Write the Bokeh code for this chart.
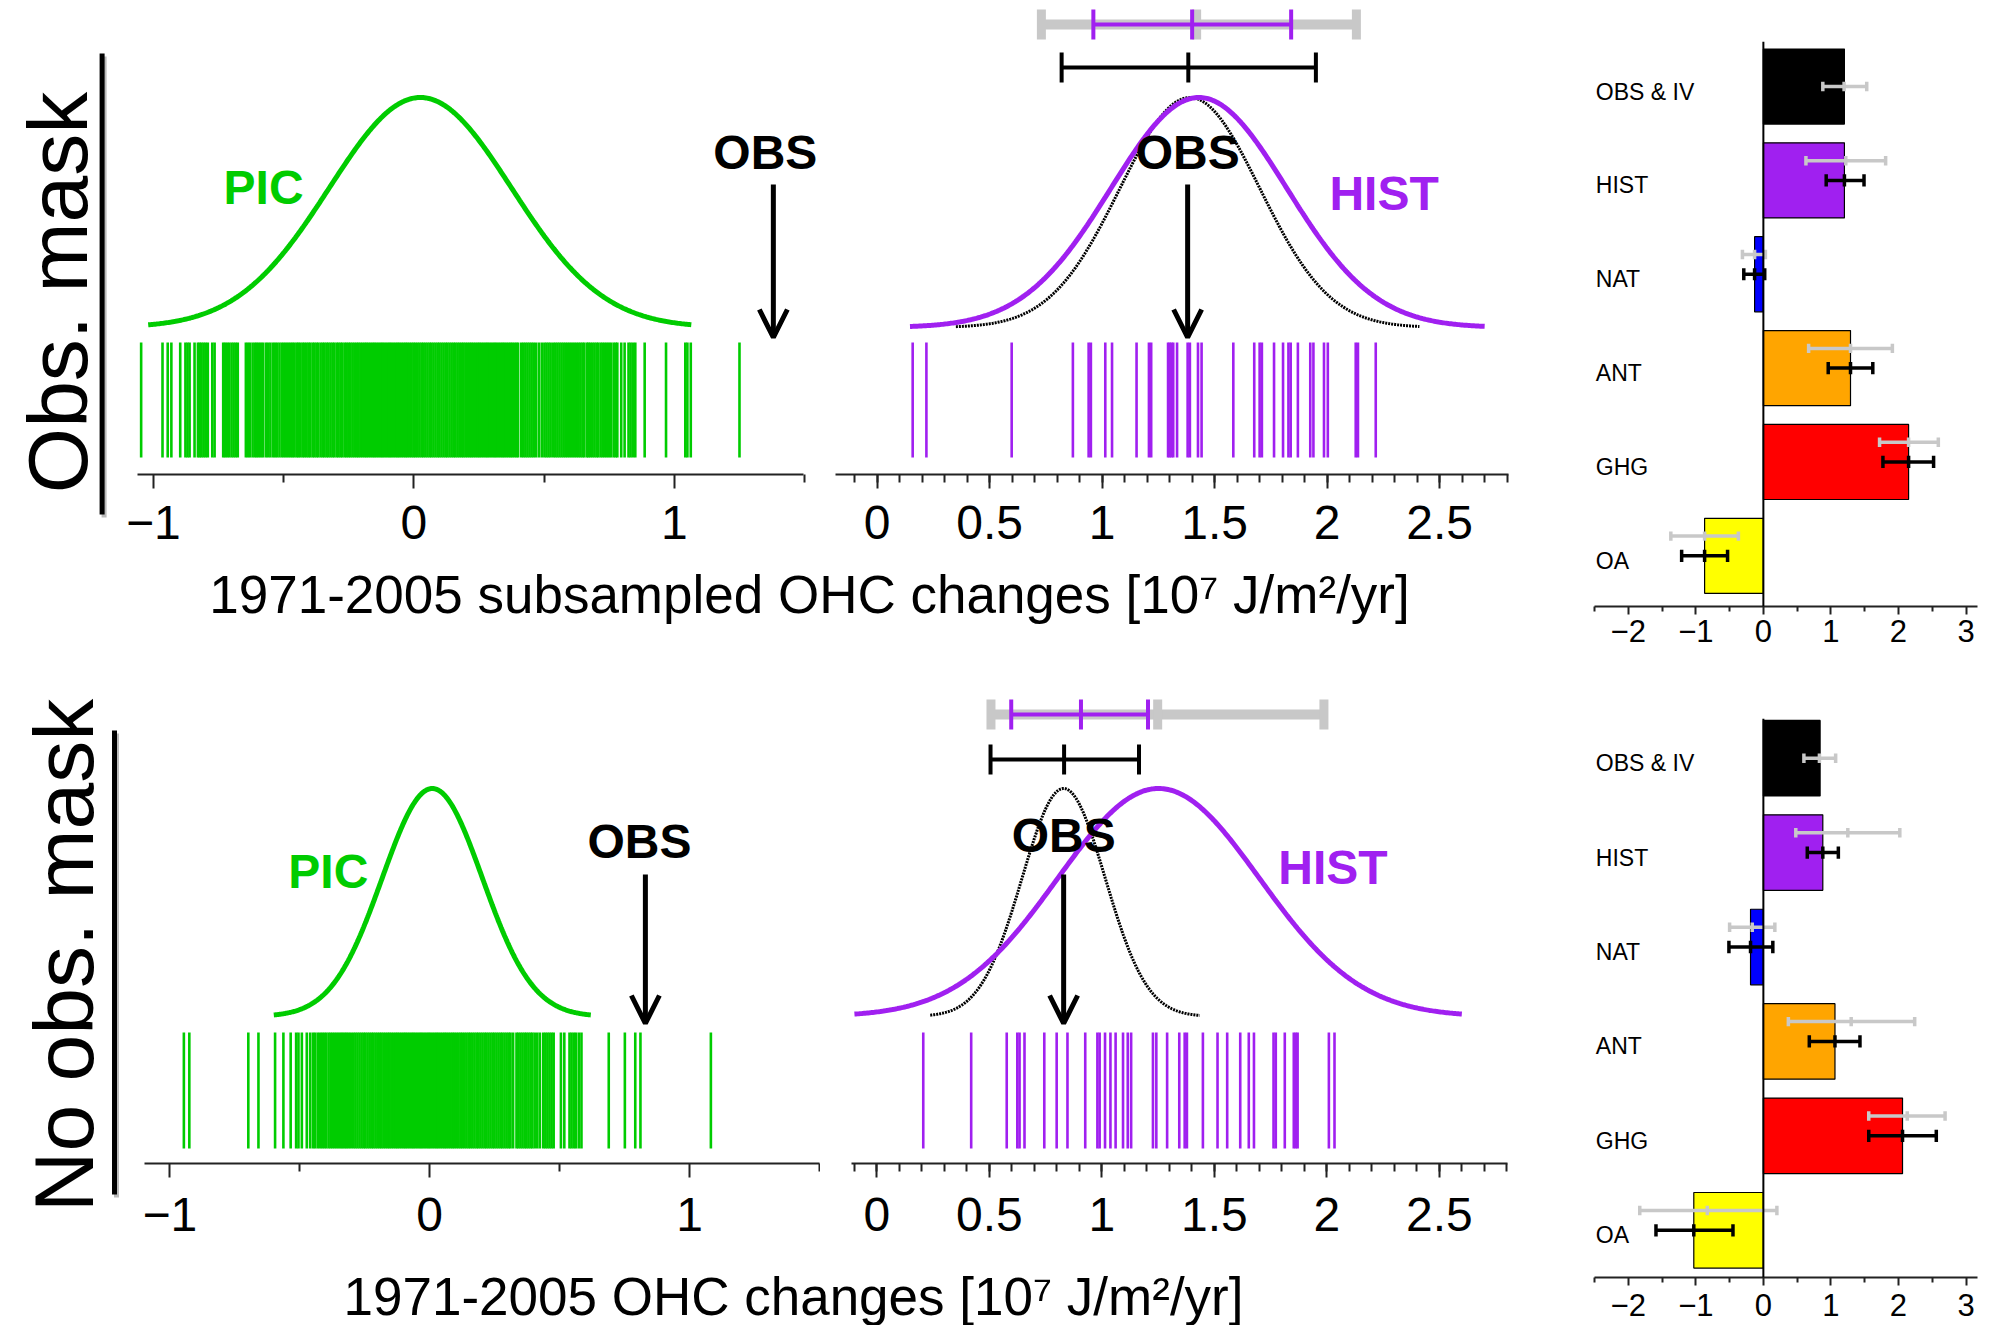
import numpy as np
from bokeh.plotting import figure
from bokeh.layouts import row, column
from bokeh.models import (Range1d, FixedTicker, CustomJSTickFormatter, Arrow, OpenHead, Span,
                          Label)
from bokeh.core.properties import value
from bokeh.embed import file_html
from bokeh.resources import INLINE

FONT = "Liberation Sans"
GREEN = "#00CC00"
PURPLE = "#A020F0"
GRAY = "#C8C8C8"
AXIS = "#222222"

# ---------------- ensemble members (rug values, 1e7 J/m2/yr) ----------------
pic_mask = [
    -1.047, -0.965, -0.945, -0.931, -0.897, -0.877, -0.869, -0.861, -0.842, -0.829,
    -0.822, -0.815, -0.807, -0.799, -0.791, -0.774, -0.765,
    -0.732, -0.725, -0.717, -0.709, -0.700, -0.692, -0.684, -0.676,
    -0.645, -0.637, -0.629, -0.619, -0.610, -0.603, -0.595, -0.587, -0.579, -0.568,
    -0.560, -0.551, -0.541, -0.533, -0.525, -0.516, -0.507, -0.499, -0.491, -0.483, -0.475,
    -0.467, -0.460, -0.451, -0.444, -0.437, -0.428, -0.421, -0.413, -0.405, -0.398,
    -0.389, -0.382, -0.374, -0.367, -0.358, -0.350, -0.343, -0.335, -0.328, -0.320,
    -0.312, -0.305, -0.296, -0.289, -0.281, -0.274, -0.265, -0.258, -0.250, -0.243,
    -0.235, -0.227, -0.219, -0.212, -0.204, -0.196, -0.188, -0.181, -0.173, -0.165,
    -0.157, -0.150, -0.142, -0.134, -0.126, -0.119, -0.111, -0.103, -0.095, -0.088,
    -0.080, -0.072, -0.064, -0.057, -0.049, -0.041, -0.033, -0.026, -0.018, -0.010,
    -0.002, 0.005, 0.013, 0.021, 0.029, 0.036, 0.044, 0.052, 0.060, 0.067,
    0.075, 0.083, 0.091, 0.098, 0.106, 0.114, 0.122, 0.129, 0.137, 0.145,
    0.153, 0.160, 0.168, 0.176, 0.184, 0.191, 0.199, 0.207, 0.215, 0.222,
    0.230, 0.238, 0.246, 0.253, 0.261, 0.269, 0.277, 0.284, 0.292, 0.300,
    0.308, 0.315, 0.323, 0.331, 0.339, 0.346, 0.354, 0.362, 0.370, 0.377,
    0.385, 0.393, 0.400,
    0.412, 0.420, 0.428, 0.436, 0.444, 0.452, 0.460, 0.469, 0.480, 0.491,
    0.501, 0.509, 0.517, 0.525, 0.535, 0.543, 0.551, 0.559, 0.567, 0.575,
    0.583, 0.591, 0.599, 0.607, 0.615, 0.623, 0.631, 0.639, 0.647, 0.654,
    0.664, 0.670, 0.677, 0.685, 0.693, 0.701, 0.708, 0.717, 0.725, 0.733,
    0.741, 0.749, 0.757, 0.767, 0.775, 0.781, 0.796, 0.809, 0.824, 0.832,
    0.841, 0.850, 0.886, 0.968, 1.042, 1.050, 1.063, 1.250,
]
hist_mask = [
    0.158, 0.219, 0.598, 0.870, 0.940, 0.950, 1.014, 1.044, 1.153, 1.208,
    1.218, 1.293, 1.300, 1.308, 1.316, 1.333, 1.380, 1.390, 1.426, 1.442,
    1.583, 1.676, 1.700, 1.710, 1.764, 1.804, 1.828, 1.838, 1.870, 1.925,
    1.939, 1.986, 2.003, 2.127, 2.137, 2.216,
]
pic_nomask = [
    -0.946, -0.925, -0.698, -0.659, -0.595, -0.563, -0.535, -0.514, -0.505, -0.492,
    -0.473, -0.460, -0.449, -0.441, -0.431,
    -0.422, -0.414, -0.406, -0.398, -0.389, -0.381, -0.373,
    -0.365, -0.357, -0.349, -0.341, -0.334, -0.326, -0.319,
    -0.311, -0.303, -0.294, -0.286, -0.278, -0.270,
    -0.262, -0.254, -0.247, -0.239, -0.231, -0.223, -0.216, -0.208, -0.200, -0.192,
    -0.185, -0.177, -0.169, -0.161, -0.154, -0.146, -0.138, -0.130, -0.123, -0.115,
    -0.107, -0.099, -0.092, -0.084, -0.076, -0.068, -0.061, -0.053, -0.045, -0.037,
    -0.030, -0.022, -0.014, -0.006, 0.001, 0.009, 0.017, 0.025, 0.032, 0.040,
    0.048, 0.056, 0.063, 0.071, 0.079, 0.087, 0.094, 0.102, 0.110, 0.118,
    0.125, 0.133, 0.141, 0.149, 0.156, 0.164, 0.172, 0.180, 0.187, 0.195,
    0.203, 0.211, 0.218, 0.226, 0.234, 0.242, 0.249, 0.257, 0.265, 0.273,
    0.280, 0.288, 0.296, 0.304, 0.311,
    0.321, 0.334, 0.341, 0.349, 0.357, 0.365, 0.372, 0.380, 0.388, 0.395,
    0.404, 0.414, 0.424, 0.437, 0.445, 0.453, 0.461, 0.469, 0.477, 0.505,
    0.518, 0.538, 0.546, 0.555, 0.563, 0.574, 0.584, 0.689, 0.751, 0.791,
    0.811, 1.082,
]
hist_nomask = [
    0.206, 0.419, 0.577, 0.624, 0.634, 0.656, 0.744, 0.799, 0.847, 0.926,
    0.980, 0.990, 1.014, 1.038, 1.061, 1.094, 1.115, 1.130, 1.227, 1.242,
    1.290, 1.344, 1.368, 1.378, 1.449, 1.514, 1.557, 1.615, 1.653, 1.676,
    1.763, 1.773, 1.813, 1.853, 1.862, 1.870, 2.009, 2.034,
]

# observed change
obs_mask = 1.38
obs_nomask = 0.83

# fitted normal curves: mean, sd, x from, x to
pic_fit_mask = [0.025, 0.35, -1.02, 1.065]
hist_fit_mask = [1.43, 0.39, 0.146, 2.70]
obs_fit_mask = [1.39, 0.31, 0.35, 2.41]
pic_fit_nomask = [0.01, 0.193, -0.60, 0.62]
hist_fit_nomask = [1.252, 0.448, -0.10, 2.60]
obs_fit_nomask = [0.83, 0.185, 0.237, 1.435]

# ranges: low, central, high
gray_range_mask = [0.73, 1.42, 2.13]
purple_range_mask = [0.961, 1.40, 1.84]
black_range_mask = [0.82, 1.383, 1.95]
gray_range_nomask = [0.507, 1.248, 1.987]
purple_range_nomask = [0.597, 0.907, 1.205]
black_range_nomask = [0.505, 0.832, 1.165]

# ---------------- scaling factors per forcing ----------------
forcings = ["OBS & IV", "HIST", "NAT", "ANT", "GHG", "OA"]
forcing_colors = ["#000000", PURPLE, "#0000FF", "#FFA500", "#FF0000", "#FFFF00"]

beta_mask = [1.20, 1.20, -0.13, 1.29, 2.15, -0.87]
gray_lo_mask = [0.88, 0.63, -0.31, 0.67, 1.72, -1.37]
gray_mid_mask = [1.195, 1.22, -0.13, 1.29, 2.15, -0.87]
gray_hi_mask = [1.53, 1.81, 0.03, 1.91, 2.59, -0.37]
black_lo_mask = [None, 0.93, -0.29, 0.96, 1.77, -1.21]
black_hi_mask = [None, 1.49, 0.02, 1.62, 2.52, -0.53]

beta_nomask = [0.84, 0.88, -0.19, 1.06, 2.06, -1.03]
gray_lo_nomask = [0.60, 0.48, -0.50, 0.37, 1.56, -1.83]
gray_mid_nomask = [0.83, 1.25, -0.165, 1.30, 2.13, -0.83]
gray_hi_nomask = [1.07, 2.02, 0.17, 2.24, 2.69, 0.20]
black_lo_nomask = [None, 0.65, -0.51, 0.68, 1.56, -1.59]
black_hi_nomask = [None, 1.11, 0.14, 1.43, 2.56, -0.45]

MINUS_FMT = "return tick < 0 ? '\u2212' + (-tick) : '' + tick;"


def style_xaxis(p, major, minor, size, tick_out, minor_out, standoff):
    ax = p.xaxis[0]
    ax.ticker = FixedTicker(ticks=major, minor_ticks=minor)
    ax.formatter = CustomJSTickFormatter(code=MINUS_FMT)
    ax.axis_line_color = AXIS
    ax.axis_line_width = 2
    ax.major_tick_line_color = AXIS
    ax.major_tick_line_width = 2
    ax.minor_tick_line_color = AXIS
    ax.minor_tick_line_width = 2
    ax.major_tick_in = 0
    ax.minor_tick_in = 0
    ax.major_tick_out = tick_out
    ax.minor_tick_out = minor_out
    ax.major_label_standoff = standoff
    ax.major_label_text_font = FONT
    ax.major_label_text_font_size = size
    ax.major_label_text_color = "black"


def dist_fig(w, h, bl, br, bb, x0, x1, major, minor, standoff, axis_end=None):
    p = figure(width=w, height=h, x_range=Range1d(x0, x1), y_range=Range1d(0, h - bb),
               output_backend="svg", toolbar_location=None, y_axis_location=None,
               min_border_left=bl, min_border_right=br, min_border_top=0,
               min_border_bottom=bb)
    p.outline_line_color = None
    p.grid.visible = False
    style_xaxis(p, major, minor, "48px", 14, 8, standoff)
    if axis_end is not None:
        p.xaxis[0].bounds = (x0, axis_end)
    return p


def curve(p, fit, base, amp, color, width, dash="solid"):
    m, s, a, b = fit
    xs = np.linspace(a, b, 400)
    ys = base + amp * np.exp(-0.5 * ((xs - m) / s) ** 2)
    p.line(xs, ys, line_color=color, line_width=width, line_dash=dash)


def rug(p, vals, lo, hi, color):
    p.segment(x0=vals, y0=lo, x1=vals, y1=hi, line_color=color, line_width=2.6)


def range_bar(p, rng, y, color, lw, cap_h, cap_w):
    lo, mid, hi = rng
    p.segment(x0=[lo], y0=[y], x1=[hi], y1=[y], line_color=color, line_width=lw)
    p.segment(x0=[lo, mid, hi], y0=[y - cap_h / 2] * 3, x1=[lo, mid, hi],
              y1=[y + cap_h / 2] * 3, line_color=color, line_width=cap_w)


def label(p, x, y, txt, color, dx=0):
    p.add_layout(Label(x=x, y=y, text=txt, text_color=color, text_font=FONT,
                       text_font_size="48px", text_font_style="bold", text_align="center",
                       text_baseline="middle", x_offset=dx))


def obs_arrow(p, x, y0, y1):
    p.add_layout(Arrow(x_start=x, y_start=y0, x_end=x, y_end=y1, line_width=5,
                       line_color="black",
                       end=OpenHead(size=28, line_width=5, line_color="black")))


def bare_fig(w, h):
    p = figure(width=w, height=h, x_range=Range1d(0, w), y_range=Range1d(h, 0),
               output_backend="svg", toolbar_location=None, x_axis_location=None,
               y_axis_location=None, min_border=0, frame_align=False)
    p.outline_line_color = None
    p.grid.visible = False
    return p


def side_fig(h, txt, tx, ty, bx, by0, by1):
    p = bare_fig(120, h)
    p.text(x=[tx], y=[ty], text=[txt], angle=np.pi / 2, text_font=value(FONT),
           text_font_size="84px", text_align="center", text_baseline="middle",
           text_color="black")
    p.segment(x0=[bx + 2], y0=[by0 + 3], x1=[bx + 2], y1=[by1 + 3], line_color="#BBBBBB",
              line_width=5)
    p.segment(x0=[bx], y0=[by0], x1=[bx], y1=[by1], line_color="black", line_width=5)
    return p


def xlabel_fig(h, txt, cx, cy):
    p = bare_fig(1440, h)
    p.text(x=[cx], y=[cy], text=[txt], text_font=value(FONT), text_font_size="53px",
           text_align="center", text_baseline="middle", text_color="black")
    return p


def bar_fig(h, bt, bb, ymax, first_center, standoff, beta, glo, gmid, ghi, blo, bhi):
    p = figure(width=432, height=h, x_range=Range1d(-2.5, 3.17), y_range=Range1d(0, ymax),
               output_backend="svg", toolbar_location=None, y_axis_location=None,
               min_border_left=34, min_border_right=15, min_border_top=bt,
               min_border_bottom=bb, frame_align=False)
    p.outline_line_color = None
    p.grid.visible = False
    style_xaxis(p, [-2, -1, 0, 1, 2, 3], [-2.5, -1.5, -0.5, 0.5, 1.5, 2.5], "31px", 8, 5,
                standoff)
    n = len(forcings)
    yc = [first_center + (n - 1 - i) for i in range(n)]
    p.hbar(y=yc, left=0, right=beta, height=0.8, fill_color=forcing_colors,
           line_color="black", line_width=1.2)
    p.add_layout(Span(location=0, dimension="height", line_color="black", line_width=2))
    gy = [c + (0 if f == "OBS & IV" else 0.21) for c, f in zip(yc, forcings)]
    p.segment(x0=glo, y0=gy, x1=ghi, y1=gy, line_color=GRAY, line_width=3.5)
    for xs in (glo, gmid, ghi):
        p.segment(x0=xs, y0=[y - 0.05 for y in gy], x1=xs, y1=[y + 0.05 for y in gy],
                  line_color=GRAY, line_width=3.5)
    idx = [i for i in range(n) if blo[i] is not None]
    bl = [blo[i] for i in idx]
    bh = [bhi[i] for i in idx]
    bm = [beta[i] for i in idx]
    by = [yc[i] for i in idx]
    p.segment(x0=bl, y0=by, x1=bh, y1=by, line_color="black", line_width=3.5)
    for xs in (bl, bm, bh):
        p.segment(x0=xs, y0=[y - 0.065 for y in by], x1=xs, y1=[y + 0.065 for y in by],
                  line_color="black", line_width=3.5)
    p.text(x=[-2.48] * n, y=yc, text=forcings, text_font=value(FONT), text_font_size="23px",
           text_align="left", text_baseline="middle", text_color="black", y_offset=5)
    return p


# ---------------- top row: observational mask ----------------
pic_top = dist_fig(700, 560, 17, 0, 86, -1.061, 1.561, [-1, 0, 1], [-0.5, 0.5, 1.5], 17,
                   axis_end=1.496)
rug(pic_top, pic_mask, 17, 132, GREEN)
curve(pic_top, pic_fit_mask, 147, 230, GREEN, 5)
label(pic_top, -0.577, 287, "PIC", GREEN)
label(pic_top, obs_mask, 322, "OBS", "black", dx=-8)
obs_arrow(pic_top, obs_mask, 290, 137)

hist_minor = [round(-0.1 + 0.1 * k, 1) for k in range(30)]
hist_top = dist_fig(740, 560, 15, 52, 86, -0.185, 2.806,
                    [0, 0.5, 1, 1.5, 2, 2.5], hist_minor, 17)
rug(hist_top, hist_mask, 17, 132, PURPLE)
curve(hist_top, obs_fit_mask, 147, 230, "black", 3, "2 1")
curve(hist_top, hist_fit_mask, 147, 230, PURPLE, 5)
range_bar(hist_top, gray_range_mask, 450, GRAY, 10, 30, 9)
range_bar(hist_top, purple_range_mask, 450, PURPLE, 4, 30, 4)
range_bar(hist_top, black_range_mask, 407, "black", 4, 30, 4)
label(hist_top, 2.253, 281, "HIST", PURPLE)
label(hist_top, obs_mask, 322, "OBS", "black")
obs_arrow(hist_top, obs_mask, 290, 137)

side_top = side_fig(660, "Obs. mask", 57, 292, 101.6, 53, 514)
xlab_top = xlabel_fig(100, "1971-2005 subsampled OHC changes [10\u2077 J/m\u00b2/yr]", 689, 34)
bars_top = bar_fig(660, 41, 54, 6.02, 0.54, 5, beta_mask, gray_lo_mask, gray_mid_mask,
                   gray_hi_mask, black_lo_mask, black_hi_mask)

# ---------------- bottom row: no observational mask ----------------
pic_bot = dist_fig(700, 585, 24, 1, 82, -1.0975, 1.5, [-1, 0, 1], [-0.5, 0.5, 1.5], 20)
rug(pic_bot, pic_nomask, 15, 131, GREEN)
curve(pic_bot, pic_fit_nomask, 147, 228, GREEN, 5)
label(pic_bot, -0.39, 292, "PIC", GREEN)
label(pic_bot, obs_nomask, 322, "OBS", "black", dx=-6)
obs_arrow(pic_bot, obs_nomask, 289, 140)

hist_bot = dist_fig(740, 585, 31, 53, 82, -0.113, 2.803,
                    [0, 0.5, 1, 1.5, 2, 2.5], hist_minor, 20)
rug(hist_bot, hist_nomask, 15, 131, PURPLE)
curve(hist_bot, obs_fit_nomask, 147, 228, "black", 3, "2 1")
curve(hist_bot, hist_fit_nomask, 147, 228, PURPLE, 5)
range_bar(hist_bot, gray_range_nomask, 449, GRAY, 10, 30, 9)
range_bar(hist_bot, purple_range_nomask, 449, PURPLE, 4, 30, 4)
range_bar(hist_bot, black_range_nomask, 404, "black", 4, 30, 4)
label(hist_bot, 2.027, 296, "HIST", PURPLE)
label(hist_bot, obs_nomask, 328, "OBS", "black")
obs_arrow(hist_bot, obs_nomask, 289, 140)

side_bot = side_fig(665, "No obs. mask", 63, 295, 114, 70, 534)
xlab_bot = xlabel_fig(80, "1971-2005 OHC changes [10\u2077 J/m\u00b2/yr]", 673, 51)
bars_bot = bar_fig(665, 58, 48, 5.92, 0.50, 8, beta_nomask, gray_lo_nomask, gray_mid_nomask,
                   gray_hi_nomask, black_lo_nomask, black_hi_nomask)

top = row(side_top, column(row(pic_top, hist_top), xlab_top), bars_top)
bottom = row(side_bot, column(row(pic_bot, hist_bot), xlab_bot), bars_bot)
layout = column(top, bottom)

open("out.html", "w").write(file_html(layout, INLINE))
